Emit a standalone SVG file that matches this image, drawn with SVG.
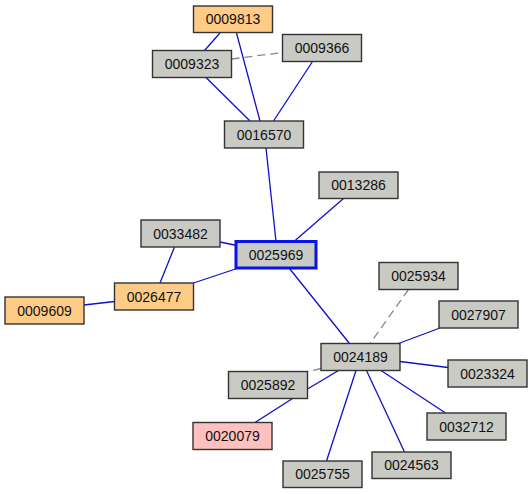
<svg xmlns="http://www.w3.org/2000/svg" width="532" height="494" viewBox="0 0 532 494">
<style>
.n rect{fill:#c9cac3;stroke:#333;stroke-width:1.4}
.n.o rect{fill:#ffcc88}
.n.p rect{fill:#ffc0c0}
.n.c rect{stroke:#0a14e6;stroke-width:3}
.n text{font-family:"Liberation Sans",Arial,sans-serif;font-size:14px;fill:#111;text-anchor:middle}
.e line{stroke:#1010cc;stroke-width:1.3}
.e line.d{stroke:#888;stroke-dasharray:8,5}
</style>
<rect width="532" height="494" fill="#fff"/>
<g id="edges" class="e">
<line x1="220" y1="33" x2="204.5" y2="50.5"/>
<line x1="236.5" y1="33" x2="260" y2="121"/>
<line x1="206" y1="77.5" x2="250" y2="121"/>
<line x1="312.5" y1="61.5" x2="273.5" y2="121"/>
<line class="d" x1="231.5" y1="59" x2="282.5" y2="52.5"/>
<line x1="266" y1="148" x2="276" y2="241.5"/>
<line x1="294" y1="241.5" x2="343.5" y2="198.5"/>
<line x1="220" y1="242" x2="237" y2="245.5"/>
<line x1="174.5" y1="247" x2="160" y2="283"/>
<line x1="193.5" y1="283" x2="237" y2="268.5"/>
<line x1="84" y1="305" x2="114.5" y2="301.5"/>
<line x1="289.5" y1="268.5" x2="349.5" y2="343.5"/>
<line class="d" x1="408.5" y1="289.5" x2="370" y2="343.5"/>
<line class="d" x1="321" y1="368.5" x2="308" y2="371.5"/>
<line x1="398.5" y1="343.5" x2="440" y2="328"/>
<line x1="400" y1="361.5" x2="448" y2="367.5"/>
<line x1="381" y1="370.5" x2="445.5" y2="413"/>
<line x1="366.5" y1="370.5" x2="404.5" y2="452"/>
<line x1="356" y1="370.5" x2="326.5" y2="461"/>
<line x1="338.5" y1="370.5" x2="307.5" y2="389"/>
<line x1="292.5" y1="398.5" x2="255" y2="422.5"/>
</g>
<g id="n0009813" class="n o"><rect x="193.5" y="6" width="79" height="26.5"/><text x="233" y="24">0009813</text></g>
<g id="n0009323" class="n"><rect x="152.5" y="50.5" width="79" height="27"/><text x="192" y="69">0009323</text></g>
<g id="n0009366" class="n"><rect x="282.5" y="34.5" width="79" height="27"/><text x="322" y="53">0009366</text></g>
<g id="n0016570" class="n"><rect x="224.5" y="121" width="79" height="27"/><text x="264" y="139.5">0016570</text></g>
<g id="n0013286" class="n"><rect x="319" y="172" width="79" height="26.5"/><text x="358.5" y="190">0013286</text></g>
<g id="n0033482" class="n"><rect x="141" y="220" width="79" height="27"/><text x="180.5" y="238.5">0033482</text></g>
<g id="n0025969" class="n c"><rect x="236" y="241.5" width="80" height="26.5"/><text x="276" y="259.5">0025969</text></g>
<g id="n0026477" class="n o"><rect x="114.5" y="283" width="79" height="27"/><text x="154" y="301.5">0026477</text></g>
<g id="n0009609" class="n o"><rect x="5" y="297" width="79" height="27"/><text x="44.5" y="315.5">0009609</text></g>
<g id="n0025934" class="n"><rect x="379" y="262.5" width="79" height="27"/><text x="418.5" y="281">0025934</text></g>
<g id="n0027907" class="n"><rect x="439" y="301" width="79" height="27"/><text x="478.5" y="319.5">0027907</text></g>
<g id="n0024189" class="n"><rect x="321" y="343.5" width="79" height="27"/><text x="360.5" y="362">0024189</text></g>
<g id="n0023324" class="n"><rect x="448" y="360" width="79" height="27"/><text x="487.5" y="378.5">0023324</text></g>
<g id="n0025892" class="n"><rect x="228.5" y="371.5" width="79" height="27"/><text x="268" y="390">0025892</text></g>
<g id="n0020079" class="n p"><rect x="193" y="422.5" width="79" height="27"/><text x="232.5" y="441">0020079</text></g>
<g id="n0032712" class="n"><rect x="427" y="413" width="79" height="27"/><text x="466.5" y="431.5">0032712</text></g>
<g id="n0024563" class="n"><rect x="372" y="452" width="79" height="26.5"/><text x="411.5" y="470">0024563</text></g>
<g id="n0025755" class="n"><rect x="283" y="461" width="79" height="26.5"/><text x="322.5" y="479">0025755</text></g>
</svg>
